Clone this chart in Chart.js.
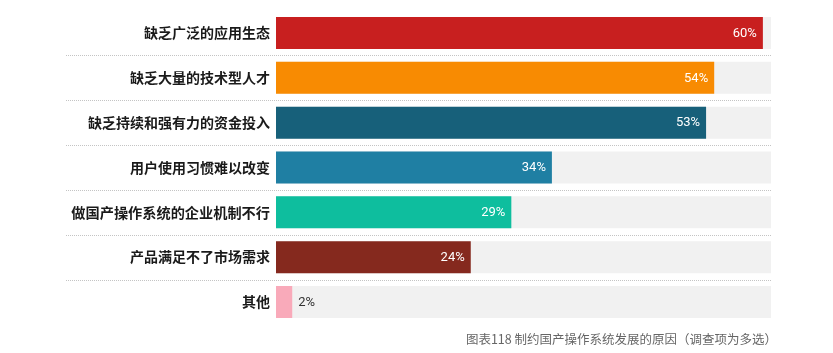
<!DOCTYPE html>
<html>
<head>
<meta charset="utf-8">
<script src="https://cdn.jsdelivr.net/npm/chart.js@4.4.1/dist/chart.umd.min.js"></script>
<style>
  html, body { margin: 0; padding: 0; background: #ffffff; }
  #wrap { position: relative; width: 833px; height: 353px; }
</style>
</head>
<body>
<div id="wrap"><canvas id="c" width="833" height="353"></canvas></div>
<script>
const categories = [
  '缺乏广泛的应用生态',
  '缺乏大量的技术型人才',
  '缺乏持续和强有力的资金投入',
  '用户使用习惯难以改变',
  '做国产操作系统的企业机制不行',
  '产品满足不了市场需求',
  '其他'
];
const values = [60, 54, 53, 34, 29, 24, 2];
const trackValues = [61, 61, 61, 61, 61, 61, 61];
const barColors = ['#C81F1F', '#F88B02', '#17607A', '#1F7FA3', '#0EBE9E', '#85291E', '#F9AABA'];
const caption = '图表118 制约国产操作系统发展的原因（调查项为多选）';

const CJK = '"Noto Sans CJK SC", "Noto Sans", sans-serif';
const NUM = 'Roboto, "Noto Sans", sans-serif';

const extras = {
  id: 'extras',
  beforeDatasetsDraw(chart) {
    const ctx = chart.ctx;
    const y = chart.scales.y;
    const area = chart.chartArea;
    ctx.save();
    ctx.strokeStyle = '#c4c4c4';
    ctx.lineWidth = 1;
    ctx.setLineDash([1, 1]);
    for (let i = 0; i < categories.length - 1; i++) {
      const py = Math.round((y.getPixelForValue(i) + y.getPixelForValue(i + 1)) / 2) + 0.5;
      ctx.beginPath();
      ctx.moveTo(66, py);
      ctx.lineTo(area.right + 1, py);
      ctx.stroke();
    }
    ctx.restore();
  },
  afterDatasetsDraw(chart) {
    const ctx = chart.ctx;
    const meta = chart.getDatasetMeta(1);
    ctx.save();
    ctx.font = '13px ' + NUM;
    ctx.textBaseline = 'middle';
    meta.data.forEach((bar, i) => {
      const v = values[i];
      const txt = v + '%';
      if (v > 5) {
        ctx.fillStyle = '#ffffff';
        ctx.textAlign = 'right';
        ctx.fillText(txt, bar.x - 6, bar.y + 0.5);
      } else {
        ctx.fillStyle = '#333333';
        ctx.textAlign = 'left';
        ctx.fillText(txt, bar.x + 6, bar.y + 0.5);
      }
    });
    ctx.restore();
  },
  afterDraw(chart) {
    const ctx = chart.ctx;
    ctx.save();
    ctx.font = '12.5px ' + CJK;
    ctx.fillStyle = '#666666';
    ctx.textAlign = 'right';
    ctx.textBaseline = 'middle';
    ctx.fillText(caption, 777, 339);
    ctx.restore();
  }
};

new Chart(document.getElementById('c'), {
  type: 'bar',
  data: {
    labels: categories,
    datasets: [
      {
        label: 'track',
        data: trackValues,
        backgroundColor: '#F1F1F1',
        borderWidth: 0,
        grouped: false,
        order: 2,
        barPercentage: 0.714,
        categoryPercentage: 1
      },
      {
        label: 'value',
        data: values,
        backgroundColor: barColors,
        borderWidth: 0,
        grouped: false,
        order: 1,
        barPercentage: 0.714,
        categoryPercentage: 1
      }
    ]
  },
  options: {
    indexAxis: 'y',
    responsive: false,
    animation: false,
    devicePixelRatio: 1,
    layout: { padding: { left: 0, right: 62, top: 10.6, bottom: 28.6 } },
    plugins: {
      legend: { display: false },
      tooltip: { enabled: false },
      title: { display: false }
    },
    scales: {
      x: {
        display: false,
        min: 0,
        max: 61
      },
      y: {
        grid: { display: false, drawTicks: false },
        border: { display: false },
        afterFit(scale) {
          scale.width = 276;
          scale.paddingTop = 0;
          scale.paddingBottom = 0;
        },
        ticks: {
          padding: 6,
          color: '#1a1a1a',
          font: (ctx) => ({
            family: CJK,
            weight: 'bold',
            size: ctx.index === 4 ? 14.2 : 14
          })
        }
      }
    }
  },
  plugins: [extras]
});
</script>
</body>
</html>
